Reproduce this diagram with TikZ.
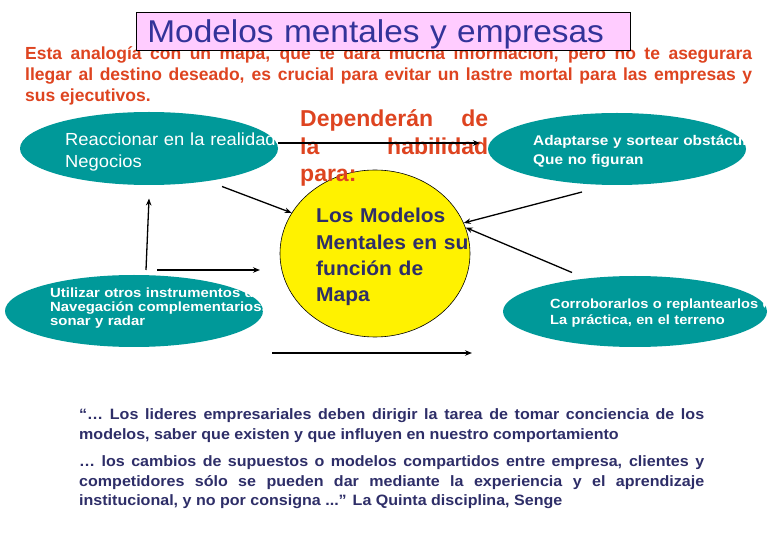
\documentclass[tikz,border=0pt]{standalone}
\usepackage{fontspec}
\setmainfont{Liberation Sans}
\newfontfamily\fsA{Liberation Sans}[FakeStretch=1.05]
\newfontfamily\fsT{Liberation Sans}[FakeStretch=1.06]
\newfontfamily\fsB{Liberation Sans}[FakeStretch=1.1]
\newfontfamily\fsC{Liberation Sans}[FakeStretch=1.12]
\newfontfamily\fsQ{Liberation Sans}[FakeStretch=1.07]
\usetikzlibrary{arrows.meta,calc,shapes.geometric}
\definecolor{teal1}{RGB}{0,153,153}
\definecolor{orng}{RGB}{222,68,32}
\definecolor{navy1}{RGB}{51,51,153}
\definecolor{navy2}{RGB}{46,46,104}
\definecolor{pinkbox}{RGB}{255,204,255}
\begin{document}
\begin{tikzpicture}[x=1pt,y=-1pt,
  oval/.style={ellipse, fill=teal1, draw=none, inner sep=0pt},
  wtext/.style={text=white, anchor=base west, inner sep=0pt, text width=320pt, align=left},
  ptext/.style={anchor=base west, inner sep=0pt, align=justify},
  conn/.style={draw=black, line width=1.3pt, -{Stealth[length=7pt,width=5.5pt]}}]
\useasboundingbox (0,0) rectangle (780,540);
\fill[white] (0,0) rectangle (780,540);

% intro paragraph
\node[ptext, text width=727pt, text=orng, font=\bfseries\fontsize{17.5}{21.3}\selectfont] (intro) at (25,59.3)
 {Esta analogía con un mapa, que te dará mucha información, pero no te asegurara\linebreak
  llegar al destino deseado, es crucial para evitar un lastre mortal para las empresas y\linebreak
  sus ejecutivos.};

% title
\node[draw=black, line width=0.8pt, fill=pinkbox, anchor=north west, minimum width=494pt,
      minimum height=38pt, inner ysep=0pt, inner xsep=11pt, text width=472pt, align=left,
      text height=21.4pt, text depth=0pt, text=navy1, font=\fsT\fontsize{31.5}{33}\selectfont]
      (title) at (136,12) {Modelos mentales y empresas};

% ovals
\node[oval, minimum width=258pt, minimum height=73pt] (r1) at (149,148.5) {};
\node[oval, minimum width=258pt, minimum height=72pt] (r2) at (617,149) {};
\node[oval, minimum width=264pt, minimum height=71pt] (r3) at (635,311.5) {};
\node[oval, minimum width=258pt, minimum height=72pt] (r4) at (134,311) {};
\node[ellipse, fill=yellow, draw=black, line width=0.6pt, minimum width=190pt, minimum height=167pt, inner sep=0pt] (map) at (375,253.5) {};

% oval texts (clipped)
\begin{scope}
\clip (0,0) rectangle (278,540);
\node[wtext, font=\fsA\fontsize{17.5}{21.5}\selectfont] (t1) at (65,146) {Reaccionar en la realidad de los\\Negocios};
\end{scope}
\begin{scope}
\clip (0,0) rectangle (747,540);
\node[wtext, font=\fsB\bfseries\fontsize{14}{19}\selectfont] (t2) at (533,146) {Adaptarse y sortear obstáculos\\Que no figuran};
\end{scope}
\begin{scope}
\clip (0,0) rectangle (764,540);
\node[wtext, font=\fsB\bfseries\fontsize{13.3}{16}\selectfont] (t3) at (550,309) {Corroborarlos o replantearlos en\\La práctica, en el terreno};
\end{scope}
\begin{scope}
\clip (0,0) rectangle (263,540);
\node[wtext, font=\fsC\bfseries\fontsize{13.3}{13.7}\selectfont] (t4) at (50,298) {Utilizar otros instrumentos de\\Navegación complementarios,\\sonar y radar};
\end{scope}

% map text
\node[anchor=base west, inner sep=0pt, text width=200pt, align=left, text=navy2,
      font=\fsA\bfseries\fontsize{20}{26.3}\selectfont] (tm) at (316,223)
 {Los Modelos\\Mentales en su\\función de\\Mapa};

% dependeran
\node[ptext, text width=188pt, text=orng, font=\bfseries\fontsize{23}{27.5}\selectfont] (dep) at (300,127)
 {Dependerán de\linebreak la habilidad\linebreak para:};

% quote
\node[ptext, text width=625pt, text=navy2, font=\fsQ\bfseries\fontsize{15}{19.5}\selectfont] (quote) at (79,420)
 {\setlength{\parskip}{8pt}“… Los lideres empresariales deben dirigir la tarea de tomar conciencia de los\linebreak
  modelos, saber que existen y que influyen en nuestro comportamiento\par
  … los cambios de supuestos o modelos compartidos entre empresa, clientes y\linebreak
  competidores sólo se pueden dar mediante la experiencia y el aprendizaje\linebreak
  institucional, y no por consigna ...” La Quinta disciplina, Senge};

% connectors
\coordinate (e1) at (480,143);
\coordinate (e6) at (260,270);
\coordinate (s7) at (272,353);
\coordinate (e7) at (472,353);
\draw[conn] ([shift={(0,-5.5)}]r1.east) -- (e1);
\draw[conn] ($(r1.center)+(73,38)$) -- (map.154);
\draw[conn] ($(r2.center)+(-35,43)$) -- (map.19);
\draw[conn] ($(r3.center)+(-63,-39)$) -- (map.16);
\draw[conn] ($(r4.center)+(12,-41)$) -- ($(r1.center)+(0,50)$);
\draw[conn] ($(r4.center)+(23,-41)$) -- (e6);
\draw[conn] (s7) -- (e7);
\end{tikzpicture}
\end{document}
